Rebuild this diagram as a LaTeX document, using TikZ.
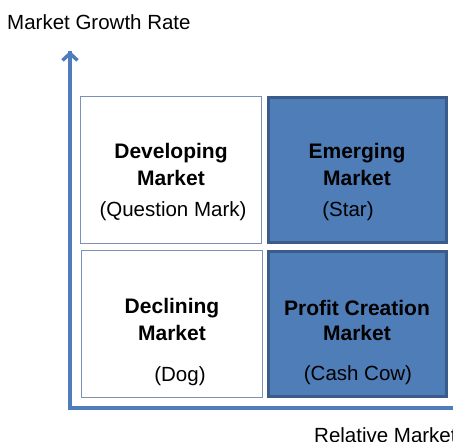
\documentclass[tikz,border=0pt]{standalone}
\usepackage{fontspec}
\setmainfont{Liberation Sans}
\usetikzlibrary{arrows.meta}
\definecolor{axisblue}{RGB}{79,125,185}
\definecolor{cellblue}{RGB}{79,125,183}
\definecolor{celledge}{RGB}{58,92,138}
\definecolor{thinedge}{RGB}{120,146,182}
\tikzset{
  lightcell/.style={draw=thinedge, line width=1.2pt, fill=white, minimum width=181pt, minimum height=147pt, inner sep=0pt},
  darkcell/.style={draw=celledge, line width=3pt, fill=cellblue, minimum width=178pt, minimum height=145pt, inner sep=0pt},
  lbl/.style={inner sep=0pt, font=\fontsize{20.5}{24}\selectfont},
  head/.style={lbl, font=\fontsize{21}{24}\selectfont\bfseries},
}
\begin{document}
\begin{tikzpicture}[x=1pt,y=1pt,yscale=-1,xscale=1]
    \useasboundingbox (0,0) rectangle (453,442);

    %Shape: Rectangles
    \node [lightcell] (dev) at (171,170) {};
    \node [darkcell] (emg) at (357,170) {};
    \node [lightcell] (dec) at (172,324) {};
    \node [darkcell] (pro) at (357,324) {};

    %Shape: Axis 2D
    \coordinate (origin) at (70,408);
    \coordinate (ytip) at (70,51);
    \coordinate (xend) at (453,408);
    \draw [axisblue, line width=3.5pt] (xend) -- (origin.center) -- (ytip);
    \draw [axisblue, line width=3.5pt, line cap=round, line join=round, -{Straight Barb[length=7pt,width=15pt]}] (70,80) -- (ytip);

    % Text Node
    \node [lbl, anchor=west] (ylbl) at (7,22) {Market Growth Rate};
    % Text Node
    \node [lbl, anchor=west] (xlbl) at (314,435) {Relative Market};

    % Text Node
    \node [head] (devA) at (dev.center |- 0,153) {Developing};
    \node [head] (devB) at (dev.center |- 0,178) {Market};
    \node [lbl] (devC) at (173,211) {(Question Mark)};
    % Text Node
    \node [head] (emgA) at (emg.center |- 0,153) {Emerging};
    \node [head] (emgB) at (emg.center |- 0,178) {Market};
    \node [lbl] (emgC) at (348,211) {(Star)};
    % Text Node
    \node [head] (decA) at (dec.center |- 0,308) {Declining};
    \node [head] (decB) at (dec.center |- 0,333) {Market};
    \node [lbl] (decC) at (180,376) {(Dog)};
    % Text Node
    \node [head] (proA) at (pro.center |- 0,308) {Profit Creation};
    \node [head] (proB) at (pro.center |- 0,333) {Market};
    \node [lbl] (proC) at (358,375) {(Cash Cow)};

\end{tikzpicture}
\end{document}
